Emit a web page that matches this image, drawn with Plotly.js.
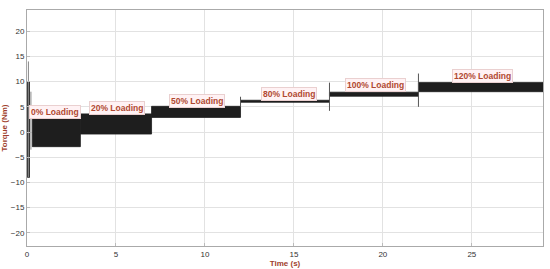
<!DOCTYPE html>
<html>
<head>
<meta charset="utf-8">
<script src="https://cdn.plot.ly/plotly-3.0.1.min.js"></script>
<style>html,body{margin:0;padding:0;background:#fff;}#chart{width:550px;height:269px;}</style>
</head>
<body>
<div id="chart"></div>
<script>
// Torque envelope per loading stage (time in s, torque in Nm)
const segStart = [0.03, 0.3, 3.0, 7.0, 12.0, 17.0, 22.0];
const segEnd   = [0.14, 3.0, 7.0, 12.0, 17.0, 22.0, 29.0];
const segLow   = [-9.0, -2.9, -0.4, 2.9, 5.9, 7.1, 8.0];
const segHigh  = [10.0, 3.5, 3.6, 5.1, 6.3, 7.9, 9.8];

// Transient spikes at load changes
const spikeTime = [0.08, 0.22, 12.0, 17.0, 22.0];
const spikeLow  = [-9.0, -3.5, 5.0, 4.2, 5.0];
const spikeHigh = [14.0, 8.0, 7.0, 9.8, 11.6];

// Annotation labels
const labelText = ["0% Loading", "20% Loading", "50% Loading", "80% Loading", "100% Loading", "120% Loading"];
const labelX    = [1.6, 5.05, 9.55, 14.75, 19.6, 25.6];
const labelY    = [3.9, 4.85, 6.25, 7.5, 9.4, 11.1];

const traces = [];
for (let i = 0; i < segStart.length; i++) {
  traces.push({
    x: [segStart[i], segEnd[i], segEnd[i], segStart[i], segStart[i]],
    y: [segLow[i], segLow[i], segHigh[i], segHigh[i], segLow[i]],
    type: 'scatter', mode: 'lines', fill: 'toself',
    fillcolor: '#1e1e1e', line: {color: '#1e1e1e', width: 0.8},
    hoverinfo: 'skip', showlegend: false
  });
}
for (let i = 0; i < spikeTime.length; i++) {
  traces.push({
    x: [spikeTime[i], spikeTime[i]],
    y: [spikeLow[i], spikeHigh[i]],
    type: 'scatter', mode: 'lines',
    line: {color: i < 2 ? '#888' : '#555', width: 1},
    hoverinfo: 'skip', showlegend: false
  });
}

const annotations = labelText.map((t, i) => ({
  x: labelX[i], y: labelY[i], xref: 'x', yref: 'y', text: t, showarrow: false,
  font: {family: 'Liberation Sans, Arial, sans-serif', size: 8.5, color: '#b04830', weight: 'bold'},
  bgcolor: '#fff2f4', bordercolor: '#ead0d0', borderwidth: 1, borderpad: 1
}));

const layout = {
  width: 550, height: 269,
  margin: {l: 27, r: 7, t: 10, b: 23},
  paper_bgcolor: '#fff', plot_bgcolor: '#fff',
  showlegend: false,
  font: {family: 'Liberation Sans, Arial, sans-serif', size: 8, color: '#333'},
  xaxis: {
    range: [0, 29], tickvals: [0, 5, 10, 15, 20, 25], ticks: 'inside', ticklen: 3,
    tickcolor: '#bbb', showgrid: true, gridcolor: '#e2e2e2', zeroline: false,
    showline: true, linecolor: '#aaa', linewidth: 1, mirror: true,
    tickfont: {size: 8, color: '#333'},
    title: {text: 'Time (s)', standoff: 2, font: {size: 8, color: '#a0402c', weight: 'bold'}}
  },
  yaxis: {
    range: [-22.6, 24.2], tickvals: [-20, -15, -10, -5, 0, 5, 10, 15, 20], ticks: 'inside', ticklen: 3,
    tickcolor: '#bbb', showgrid: true, gridcolor: '#e2e2e2', zeroline: false,
    showline: true, linecolor: '#aaa', linewidth: 1, mirror: true,
    tickfont: {size: 8, color: '#333'},
    title: {text: 'Torque (Nm)', standoff: 4, font: {size: 8, color: '#a0402c', weight: 'bold'}}
  },
  annotations: annotations
};

Plotly.newPlot('chart', traces, layout, {displayModeBar: false, staticPlot: true});
</script>
</body>
</html>
